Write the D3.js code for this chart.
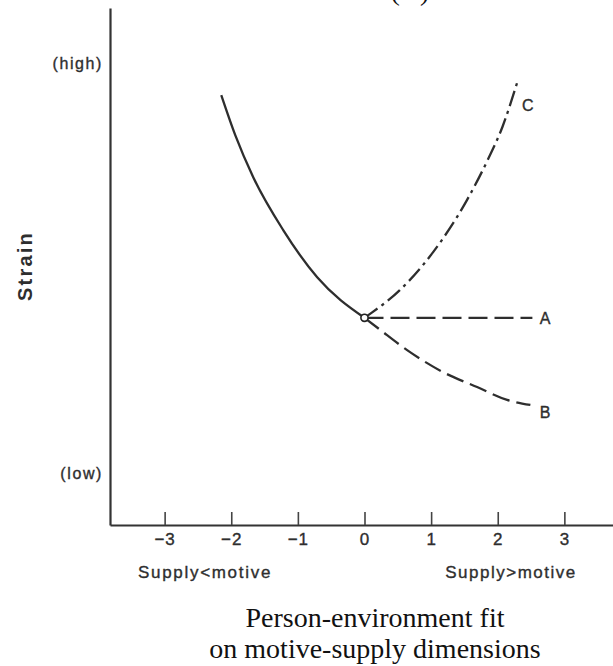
<!DOCTYPE html>
<html>
<head>
<meta charset="utf-8">
<script src="https://cdn.jsdelivr.net/npm/d3@7"></script>
<style>
body { margin: 0; background: #fff; }
svg text { font-family: "Liberation Sans", Arial, sans-serif; fill: #2e2e2e; }
.lettering { stroke: #2e2e2e; stroke-width: 0.35px; }
.caption { font-family: "Liberation Serif", "Times New Roman", serif !important; fill: #111 !important; }
</style>
</head>
<body>
<div id="chart"></div>
<script>
var w = 613,
  h = 666;

// values (x = fit, y = strain)
var xTicks = [-3, -2, -1, 0, 1, 2, 3];
var yLevels = [1, 9];
var yLevelLabels = ["(low)", "(high)"];

var mainX = [-2.15, -1.94, -1.67, -1.22, -0.71, 0];
var mainY = [8.38, 7.60, 6.78, 5.75, 4.83, 4.04];

var aX = [0, 2.52];
var aY = [4.04, 4.04];

var bX = [0, 0.24, 0.64, 1.18, 1.69, 2.14, 2.49];
var bY = [4.04, 3.80, 3.41, 2.98, 2.69, 2.44, 2.34];

var cX = [0, 0.11, 0.53, 1.03, 1.54, 1.85, 2.07, 2.29];
var cY = [4.04, 4.14, 4.58, 5.32, 6.34, 7.12, 7.76, 8.62];

var endLabels = ["A", "B", "C"];
var labelX = [2.71, 2.71, 2.45];
var labelY = [4.04, 2.20, 8.19];

var x = d3.scaleLinear().domain([-3.82, 3.73]).range([110, 613]);
var y = d3.scaleLinear().domain([0, 10.08]).range([525, 8]);

var vis = d3.select("#chart").append("svg").attr("width", w).attr("height", h);

// panel title, cut off by the top edge as in the scan
vis.append("text").attr("class", "caption").attr("x", 410).attr("y", 0)
  .attr("text-anchor", "middle").style("font-size", "28px").text("(A)");

// x axis, ticks pointing up
var xAxis = d3.axisBottom(x).tickValues(xTicks).tickSizeInner(-13).tickSizeOuter(0).tickPadding(8)
  .tickFormat(function(d) { return d < 0 ? "\u2212" + Math.abs(d) : d; });
var gx = vis.append("g").attr("transform", "translate(0," + y(0) + ")").call(xAxis);
gx.attr("font-family", null).attr("font-size", null);
gx.select(".domain").attr("stroke", "#333").attr("stroke-width", 2.2);
gx.selectAll(".tick line").attr("stroke", "#444").attr("stroke-width", 1.6);
gx.selectAll(".tick text").attr("class", "lettering").style("font-size", "17px")
  .style("letter-spacing", "1px").style("fill", "#2e2e2e");

// y axis, only the (low)/(high) marks
var yAxis = d3.axisLeft(y).tickValues(yLevels).tickSize(0).tickSizeOuter(0).tickPadding(7)
  .tickFormat(function(d, i) { return yLevelLabels[i]; });
var gy = vis.append("g").attr("transform", "translate(" + x.range()[0] + ",0)").call(yAxis);
gy.attr("font-family", null).attr("font-size", null);
gy.select(".domain").attr("stroke", "#333").attr("stroke-width", 2.2);
gy.selectAll(".tick text").attr("class", "lettering").style("font-size", "16px")
  .style("letter-spacing", "1.6px").style("fill", "#2e2e2e");

vis.append("text").attr("transform", "translate(32,266) rotate(-90)")
  .attr("text-anchor", "middle").style("font-size", "20px").style("font-weight", "bold")
  .style("letter-spacing", "2.2px").text("Strain");

vis.append("text").attr("class", "lettering").attr("x", 205).attr("y", 578).attr("text-anchor", "middle")
  .style("font-size", "17px").style("letter-spacing", "1.7px").text("Supply<motive");
vis.append("text").attr("class", "lettering").attr("x", 511).attr("y", 578).attr("text-anchor", "middle")
  .style("font-size", "17px").style("letter-spacing", "1.5px").text("Supply>motive");

vis.append("text").attr("class", "caption").attr("x", 375).attr("y", 627)
  .attr("text-anchor", "middle").style("font-size", "28px").text("Person-environment fit");
vis.append("text").attr("class", "caption").attr("x", 375).attr("y", 658)
  .attr("text-anchor", "middle").style("font-size", "28px").text("on motive-supply dimensions");

function pts(xs, ys) {
  return xs.map(function(d, i) { return [d, ys[i]]; });
}

var line = d3.line().x(function(d) { return x(d[0]); }).y(function(d) { return y(d[1]); })
  .curve(d3.curveMonotoneX);

var curves = [
  { p: pts(mainX, mainY), dash: null },
  { p: pts(aX, aY), dash: "19,7" },
  { p: pts(bX, bY), dash: "18,7" },
  { p: pts(cX, cY), dash: "16,5,3,5" }
];

vis.selectAll(".curve").data(curves).enter().append("path").attr("class", "curve")
  .attr("d", function(d) { return line(d.p); })
  .attr("fill", "none").attr("stroke", "#2e2e2e").attr("stroke-width", 2.3)
  .attr("stroke-dasharray", function(d) { return d.dash; });

vis.append("circle").attr("cx", x(0)).attr("cy", y(4.04)).attr("r", 3.6)
  .attr("fill", "#fff").attr("stroke", "#222").attr("stroke-width", 1.6);

vis.selectAll(".endlabel").data(endLabels).enter().append("text").attr("class", "endlabel lettering")
  .attr("x", function(d, i) { return x(labelX[i]); })
  .attr("y", function(d, i) { return y(labelY[i]); })
  .attr("dy", "0.36em").attr("text-anchor", "middle").style("font-size", "16px")
  .text(function(d) { return d; });
</script>
</body>
</html>
